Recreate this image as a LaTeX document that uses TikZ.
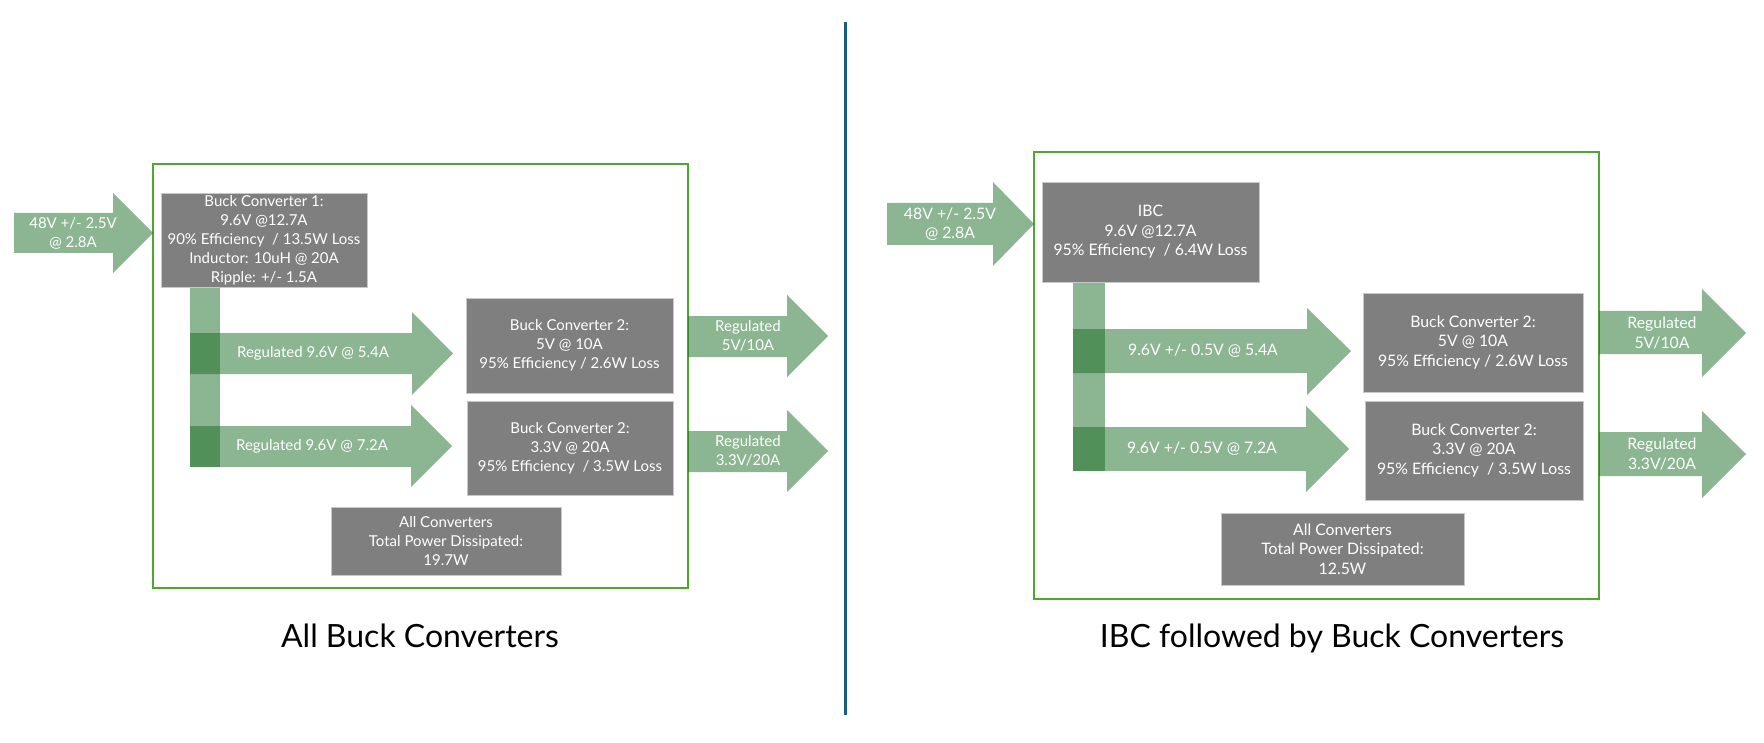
\documentclass[tikz,border=0pt]{standalone}
\usepackage{fontspec}
\setmainfont{Lato}

\definecolor{flowgreen}{HTML}{196B24}
\definecolor{framegreen}{HTML}{4EA72E}
\definecolor{boxgray}{HTML}{7F7F7F}
\definecolor{boxedge}{HTML}{C8C8C8}
\definecolor{divblue}{HTML}{156082}

\tikzset{
	flow/.style={fill=flowgreen, fill opacity=0.5},
	frame/.style={draw=framegreen, line width=1.5pt},
	conv/.style={fill=boxgray, draw=boxedge, line width=0.8pt, text=white, align=center, inner sep=0pt},
	lbl/.style={text=white, align=center, inner sep=0pt},
	fntL/.style={font=\fontsize{15}{19}\selectfont},
	fntR/.style={font=\fontsize{15.8}{19.5}\selectfont},
	caption/.style={font=\fontsize{32}{38}\selectfont, anchor=base}
}

\begin{document}
\begin{tikzpicture}[x=1pt, y=-1pt]
	
	\useasboundingbox (0,0) rectangle (1764,743);
	
	% Khung hai sơ đồ
	\draw[frame] (153,164) rectangle (688,588); % trái
	\draw[frame] (1034,152) rectangle (1599,599); % phải
	
	% Đường phân cách
	\draw[divblue, line width=3.5pt] (845.5,22) -- (845.5,715);
	
	% Thanh dọc (chồng lên mũi tên thì đậm hơn)
	\fill[flow] (190,287) rectangle (220,467);
	\fill[flow] (1073,282) rectangle (1105,471);
	
	% Mũi tên bên trái
	\fill[flow] (14,213) -- (113,213) -- (113,193) -- (153,233) -- (113,273) -- (113,253) -- (14,253) -- cycle; % vào
	\fill[flow] (190,333) -- (412,333) -- (412,312) -- (453,353.5) -- (412,395) -- (412,374) -- (190,374) -- cycle;
	\fill[flow] (190,426) -- (411,426) -- (411,405) -- (452,446) -- (411,487) -- (411,467) -- (190,467) -- cycle;
	\fill[flow] (688,316) -- (787,316) -- (787,295) -- (828,336) -- (787,377) -- (787,357) -- (688,357) -- cycle; % ra
	\fill[flow] (688,431) -- (787,431) -- (787,410) -- (828,451) -- (787,492) -- (787,472) -- (688,472) -- cycle;
	
	% Mũi tên bên phải
	\fill[flow] (887,203) -- (993,203) -- (993,182) -- (1034,224) -- (993,266) -- (993,245) -- (887,245) -- cycle; % vào
	\fill[flow] (1073,329) -- (1307,329) -- (1307,308) -- (1351,351) -- (1307,395) -- (1307,373) -- (1073,373) -- cycle;
	\fill[flow] (1073,427) -- (1306,427) -- (1306,406) -- (1349,449) -- (1306,492) -- (1306,471) -- (1073,471) -- cycle;
	\fill[flow] (1599,311) -- (1702,311) -- (1702,289) -- (1746,333) -- (1702,377) -- (1702,354) -- (1599,354) -- cycle; % ra
	\fill[flow] (1599,432) -- (1702,432) -- (1702,411) -- (1746,454) -- (1702,498) -- (1702,476) -- (1599,476) -- cycle;
	
	% Các bộ chuyển đổi bên trái
	\node[conv, fntL, minimum width=206, minimum height=94] (buckA) at (264,240)
		{Buck Converter 1:\\9.6V @12.7A\\90\% Efficiency~ / 13.5W Loss\\Inductor: 10uH @ 20A\\Ripple: +/- 1.5A};
	\node[conv, fntL, minimum width=207, minimum height=95] (buckB) at (569.5,345.5)
		{Buck Converter 2:\\5V @ 10A\\95\% Efficiency / 2.6W Loss};
	\node[conv, fntL, minimum width=206, minimum height=94] (buckC) at (570,448)
		{Buck Converter 2:\\3.3V @ 20A\\95\% Efficiency~ / 3.5W Loss};
	\node[conv, fntL, minimum width=230, minimum height=68] (totalL) at (446,541)
		{All Converters\\Total Power Dissipated:\\19.7W};
	
	% Các bộ chuyển đổi bên phải
	\node[conv, fntR, minimum width=217, minimum height=100] (ibc) at (1150.5,232)
		{IBC\\9.6V @12.7A\\95\% Efficiency~ / 6.4W Loss};
	\node[conv, fntR, minimum width=220, minimum height=99] (buckD) at (1473,342.5)
		{Buck Converter 2:\\5V @ 10A\\95\% Efficiency / 2.6W Loss};
	\node[conv, fntR, minimum width=218, minimum height=99] (buckE) at (1474,450.5)
		{Buck Converter 2:\\3.3V @ 20A\\95\% Efficiency~ / 3.5W Loss};
	\node[conv, fntR, minimum width=243, minimum height=72] (totalR) at (1342.5,549)
		{All Converters\\Total Power Dissipated:\\12.5W};
	
	% Nhãn trên mũi tên
	\node[lbl, fntL] (inL) at (73,233) {48V +/- 2.5V\\@ 2.8A};
	\node[lbl, fntL] (midLa) at (313,353.5) {Regulated 9.6V @ 5.4A};
	\node[lbl, fntL] (midLb) at (312,446.5) {Regulated 9.6V @ 7.2A};
	\node[lbl, fntL] (outLa) at (748,336) {Regulated\\5V/10A};
	\node[lbl, fntL] (outLb) at (748,451) {Regulated\\3.3V/20A};
	
	\node[lbl, fntR] (inR) at (950,224) {48V +/- 2.5V\\@ 2.8A};
	\node[lbl, fntR] (midRa) at (1203,351) {9.6V +/- 0.5V @ 5.4A};
	\node[lbl, fntR] (midRb) at (1202,449) {9.6V +/- 0.5V @ 7.2A};
	\node[lbl, fntR] (outRa) at (1662,333) {Regulated\\5V/10A};
	\node[lbl, fntR] (outRb) at (1662,454) {Regulated\\3.3V/20A};
	
	% Tiêu đề
	\node[caption] (capL) at (420,647) {All Buck Converters};
	\node[caption] (capR) at (1332,647) {IBC followed by Buck Converters};
	
\end{tikzpicture}
\end{document}
